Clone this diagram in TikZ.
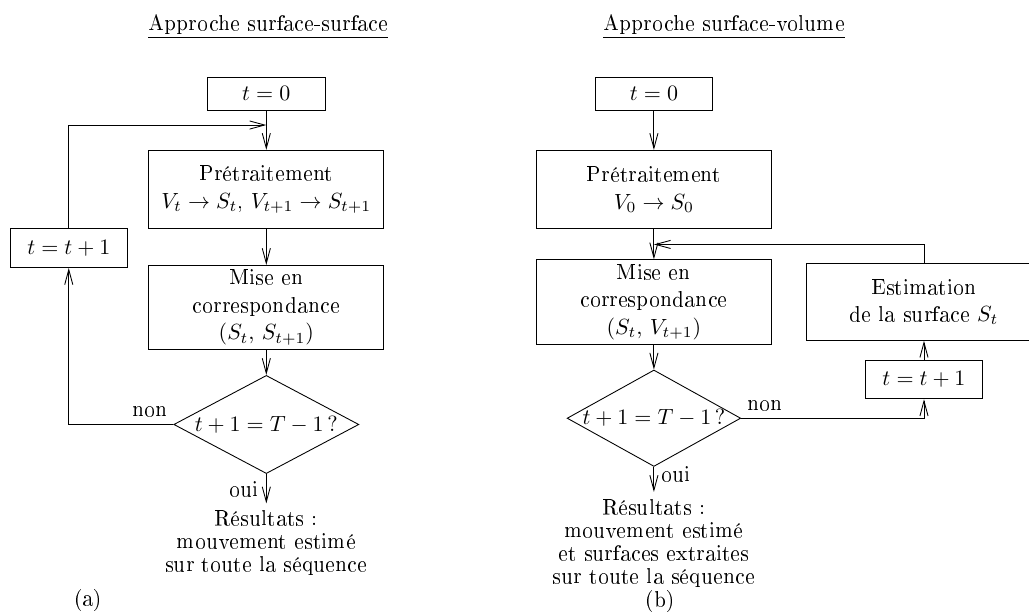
\documentclass[tikz,border=0pt]{standalone}
\usepackage[T1]{fontenc}
\usepackage{amsmath}
\usepackage{tikz}
\usetikzlibrary{arrows.meta, positioning, shapes.geometric}

\begin{document}
\begin{tikzpicture}[
    >={Straight Barb[length=2.4mm, width=1.3mm]},
    font={\fontsize{10}{10.5}\selectfont},
    thin,
    proc/.style={draw, align=center, inner sep=2pt, font={\fontsize{10}{12.5}\selectfont}, minimum width=37.6mm, minimum height=12.5mm},
    incr/.style={draw, align=center, inner sep=2pt, minimum width=18.8mm, minimum height=6.2mm},
    test/.style={draw, diamond, inner sep=0pt, aspect=1.85, minimum width=29mm, minimum height=15.5mm},
    res/.style={align=center, inner sep=3pt},
    titre/.style={anchor=base}
]

\clip (0,0) rectangle (16.46,9.81);

% --------------------------------------------------------------------------
% (a) Approche surface-surface
% --------------------------------------------------------------------------
\node[titre] (titrea) at (4.29,9.33) {\underline{Approche surface-surface}};

\node[incr, minimum height=5.3mm] (t0a) at (4.26,8.31) {$t=0$};
\coordinate (joina) at (4.26,7.81);
\node[proc] (prea) at (4.26,6.78) {Prétraitement\\$V_t \rightarrow S_t$, $V_{t+1} \rightarrow S_{t+1}$};
\node[incr] (incra) at (1.10,5.84) {$t=t+1$};
\node[proc] (misea) at (4.26,4.89) {Mise en\\correspondance\\$(S_t,\, S_{t+1})$};
\node[test, minimum width=29.6mm, minimum height=15.7mm] (testa) at (4.26,3.02) {$t+1=T-1\,?$};
\node[res] (resa) at (4.26,1.12) {Résultats :\\mouvement estimé\\sur toute la séquence};
\node (laba) at (1.41,0.22) {(a)};

\draw[->] (t0a.south) -- (prea.north);
\draw[->] (incra.north) |- (joina);
\draw[->] (prea.south) -- (misea.north);
\draw[->] (misea.south) -- (testa.north);
\draw[->] (testa.west) -- node[pos=0.22, above] {non} (testa.west -| incra) -- (incra.south);
\draw[->] (testa.south) -- node[midway, left] {oui} (resa.north);

% --------------------------------------------------------------------------
% (b) Approche surface-volume
% --------------------------------------------------------------------------
\node[titre] (titreb) at (11.58,9.33) {\underline{Approche surface-volume}};

\node[incr, minimum height=5.3mm] (t0b) at (10.46,8.31) {$t=0$};
\node[proc] (preb) at (10.46,6.78) {Prétraitement\\$V_0 \rightarrow S_0$};
\coordinate (joinb) at (10.46,5.90);
\node[proc, minimum height=12.3mm] (miseb) at (10.46,4.98) {Mise en\\correspondance\\$(S_t,\, V_{t+1})$};
\node[proc, minimum height=12.3mm] (estb) at (14.78,4.98) {Estimation\\de la surface $S_t$};
\node[incr] (incrb) at (14.78,3.74) {$t=t+1$};
\node[test, minimum width=27.7mm, minimum height=15.4mm, aspect=1.8] (testb) at (10.46,3.12) {$t+1=T-1\,?$};
\node[res] (resb) at (10.46,1.12) {Résultats :\\mouvement estimé\\et surfaces extraites\\sur toute la séquence};
\node (labb) at (10.56,0.19) {(b)};

\draw[->] (t0b.south) -- (preb.north);
\draw[->] (preb.south) -- (miseb.north);
\draw[->] (estb.north) |- (joinb);
\draw[->] (miseb.south) -- (testb.north);
\draw[->] (testb.east) -- node[pos=0.13, above] {non} (testb.east -| incrb) -- (incrb.south);
\draw[->] (incrb.north) -- (estb.south);
\draw[->] (testb.south) -- node[pos=0.3, right] {oui} (resb.north);

\end{tikzpicture}
\end{document}
